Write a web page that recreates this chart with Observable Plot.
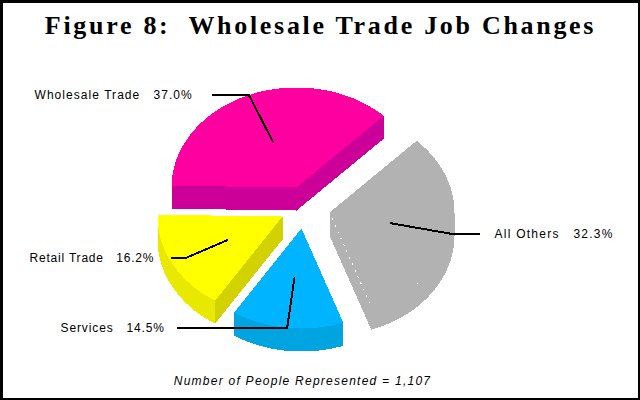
<!DOCTYPE html>
<html>
<head>
<meta charset="utf-8">
<script src="https://cdn.jsdelivr.net/npm/d3@7"></script>
<script src="https://cdn.jsdelivr.net/npm/@observablehq/plot@0.6"></script>
<style>
  html, body { margin: 0; padding: 0; background: #fff; overflow: hidden; }
  svg { display: block; shape-rendering: crispEdges; }
  svg text { white-space: pre; }
</style>
</head>
<body>
<div id="chart"></div>
<script>
const titleText = "Figure 8:  Wholesale Trade Job Changes";
const captionText = "Number of People Represented = 1,107";

const categories = ["Wholesale Trade", "All Others", "Services", "Retail Trade"];
const shares = [37.0, 32.3, 14.5, 16.2];

// Styling and placement (chart units equal pixels on the 640x400 canvas)
const topColors = ["#ff00a0", "#b2b2b2", "#00b4ff", "#ffff00"];
const sideColors = ["#cc0099", "#b2b2b2", "#00a4e0", "#d2d200"];
const rimColors = ["#cc0099", "#b2b2b2", "#00a4e0", "#e9e900"];
const originX = [296, 329, 301, 282];
const originY = [187, 212, 228, 216];
const leaderEndX = [212, 479, 177, 171];
const kneeReach = [1, 1, 1, 0.875];
const labelX = [34, 494, 60, 29];
const labelSpacing = [1.05, 1.25, 0.9, 0.8];
const drawOrder = [0, 1, 3, 2];
const rx = 125, ry = 100, depth = 23;
const rad = Math.PI / 180;

const arcs = d3.pie().sort(null)
  .startAngle(-89 * rad).endAngle(271 * rad)(shares);

const at = (i, a, f = 1, dz = 0) => ({
  x: originX[i] + rx * f * Math.sin(a),
  y: originY[i] - ry * f * Math.cos(a) + dz
});
const sweep = (i, a0, a1, dz = 0) => {
  const n = Math.max(2, Math.ceil(Math.abs(a1 - a0) / rad));
  return d3.range(n + 1).map(k => at(i, a0 + (a1 - a0) * k / n, 1, dz));
};
const poly = (pts, fill) =>
  Plot.line(pts, {x: "x", y: "y", fill, stroke: "none", curve: "linear-closed"});

const sliceMarks = [];
for (const i of drawOrder) {
  const {startAngle: a0, endAngle: a1} = arcs[i];
  const apex = at(i, 0, 0);
  const apexLow = at(i, 0, 0, depth);
  // Radial walls that face the viewer
  if (Math.sin(a0) < 0) sliceMarks.push(poly([apex, at(i, a0), at(i, a0, 1, depth), apexLow], sideColors[i]));
  if (Math.sin(a1) > 0) sliceMarks.push(poly([apex, at(i, a1), at(i, a1, 1, depth), apexLow], sideColors[i]));
  // Outer rim, only the part on the near half of the ellipse
  const r0 = Math.max(a0, 90 * rad), r1 = Math.min(a1, 270 * rad);
  if (r1 > r0) sliceMarks.push(poly([...sweep(i, r0, r1), ...sweep(i, r1, r0, depth)], rimColors[i]));
  // Top face
  sliceMarks.push(poly([apex, ...sweep(i, a0, a1)], topColors[i]));
  // Gray slice shows its front edge as a dotted white seam
  if (sideColors[i] === topColors[i]) {
    sliceMarks.push(Plot.line([apex, at(i, a1)], {x: "x", y: "y", stroke: "#fff", strokeWidth: 1, strokeDasharray: "1,6"}));
  }
}

const leaders = arcs.map((d, i) => {
  const mid = (d.startAngle + d.endAngle) / 2;
  const inner = at(i, mid, 0.5);
  const knee = at(i, mid, kneeReach[i]);
  return [inner, knee, {x: leaderEndX[i], y: knee.y}];
});
const labels = categories.map((name, i) => ({
  text: `${name}   ${shares[i].toFixed(1)}%`,
  x: labelX[i],
  y: leaders[i][1].y
}));

const chart = Plot.plot({
  width: 640, height: 400,
  margin: 0,
  x: {domain: [0, 640], range: [0, 640], axis: null},
  y: {domain: [0, 400], range: [0, 400], axis: null},
  style: {background: "#fff"},
  marks: [
    ...sliceMarks,
    ...leaders.map(pts => Plot.line(pts, {x: "x", y: "y", stroke: "#000", strokeWidth: 2, curve: "linear"})),
    Plot.text(labels, {x: "x", y: "y", text: "text", textAnchor: "start",
      fontFamily: "Liberation Sans", fontSize: 12, fill: "#000"}),
    Plot.text([titleText], {x: () => 320, y: () => 25, text: d => d,
      fontFamily: "Liberation Serif", fontWeight: "bold", fontSize: 26, fill: "#000"}),
    Plot.text([captionText], {x: () => 302, y: () => 381, text: d => d,
      fontFamily: "Liberation Sans", fontStyle: "italic", fontSize: 12, fill: "#000"}),
    Plot.frame({stroke: "#000", strokeWidth: 4, insetRight: 1, insetBottom: 1})
  ]
});

// Wide tracking of the reference's lettering
const tracking = new Map([[titleText, 2.7], [captionText, 1.25],
  ...labels.map((d, i) => [d.text, labelSpacing[i]])]);
chart.querySelectorAll("text").forEach(t => {
  const s = tracking.get(t.textContent);
  if (s) { t.style.letterSpacing = s + "px"; t.style.shapeRendering = "auto"; }
});
document.getElementById("chart").append(chart);
</script>
</body>
</html>
